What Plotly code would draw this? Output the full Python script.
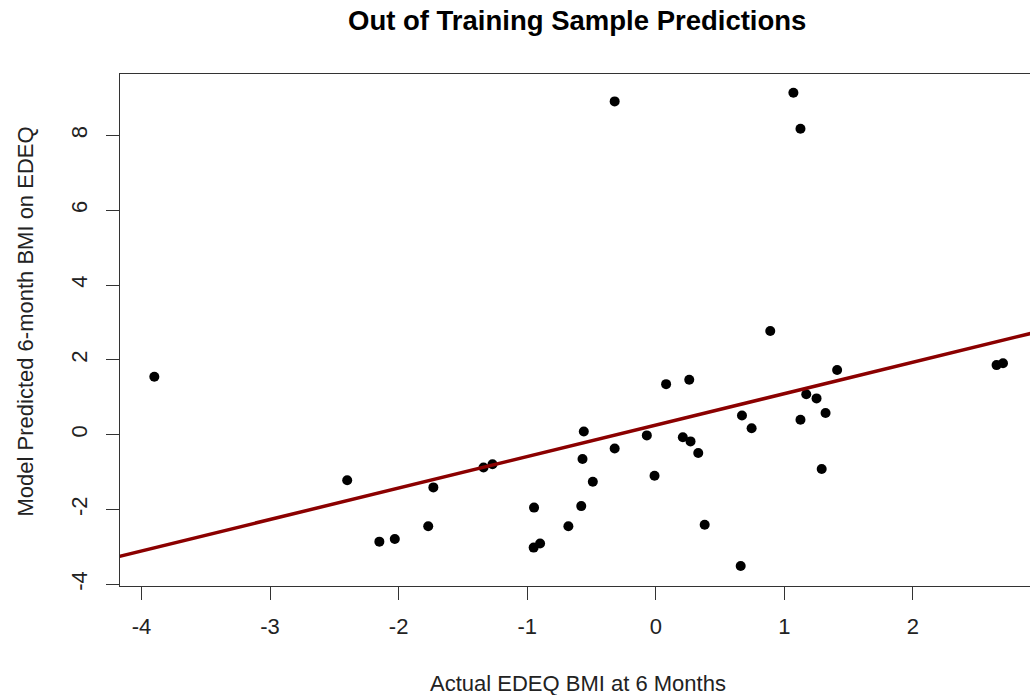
import plotly.graph_objects as go

# Data
actual = [-3.90, -2.40, -2.15, -2.03, -1.77, -1.73, -1.34, -1.27, -0.947, -0.95,
          -0.90, -0.68, -0.58, -0.57, -0.56, -0.49, -0.32, -0.32, -0.07, -0.01,
          0.08, 0.26, 0.21, 0.27, 0.33, 0.38, 0.66, 0.67, 0.745, 0.89,
          1.07, 1.125, 1.125, 1.17, 1.25, 1.29, 1.32, 1.41, 2.65, 2.70]
predicted = [1.55, -1.22, -2.86, -2.79, -2.45, -1.41, -0.88, -0.79, -1.95, -3.02,
             -2.91, -2.45, -1.91, -0.65, 0.085, -1.26, -0.37, 8.91, -0.02, -1.10,
             1.35, 1.47, -0.07, -0.18, -0.49, -2.41, -3.51, 0.51, 0.17, 2.77,
             9.14, 8.18, 0.40, 1.08, 0.97, -0.92, 0.58, 1.73, 1.86, 1.91]

fit_intercept = 0.255
fit_slope = 0.841

x_ticks = [-4, -3, -2, -1, 0, 1, 2]
y_ticks = [-4, -2, 0, 2, 4, 6, 8]

x_range = [-4.167, 2.91]
y_range = [-4.046, 9.642]

line_x = [x_range[0] - 1, x_range[1] + 1]
line_y = [fit_intercept + fit_slope * v for v in line_x]

FONT = "Liberation Sans, Arial, sans-serif"

fig = go.Figure()
fig.add_trace(go.Scatter(x=actual, y=predicted, mode="markers",
                         marker=dict(color="black", size=10),
                         showlegend=False))
fig.add_trace(go.Scatter(x=line_x, y=line_y, mode="lines",
                         line=dict(color="#8B0000", width=3.5),
                         showlegend=False))

axis_common = dict(showgrid=False, zeroline=False, showline=True,
                   linecolor="#333333", linewidth=1.3,
                   ticks="outside", ticklen=13, tickwidth=1.3, tickcolor="#333333",
                   tickfont=dict(family=FONT, size=22, color="#222222"))

fig.update_xaxes(range=x_range, tickvals=x_ticks, ticktext=[str(v) for v in x_ticks],
                 mirror=True, ticklabelstandoff=7, **axis_common)
fig.update_yaxes(range=y_range, tickvals=y_ticks, ticktext=[str(v) for v in y_ticks],
                 tickangle=-90, mirror=False, ticklabelstandoff=10, **axis_common)

# plot area in page pixels: x 120..1030, y 74..586
fig.update_layout(
    width=1030, height=695,
    margin=dict(l=120, r=0, t=74, b=109),
    paper_bgcolor="white", plot_bgcolor="white",
    font=dict(family=FONT, color="#222222"),
    annotations=[
        dict(text="<b>Out of Training Sample Predictions</b>", xref="paper", yref="paper",
             x=(576.5 - 120) / 910, y=1.0 + (74 - 20) / 512, xanchor="center", yanchor="middle",
             showarrow=False, font=dict(family=FONT, size=27.5, color="black")),
        dict(text="Actual EDEQ BMI at 6 Months", xref="paper", yref="paper",
             x=(578 - 120) / 910, y=-(683 - 586) / 512, xanchor="center", yanchor="middle",
             showarrow=False, font=dict(family=FONT, size=22, color="#222222")),
        dict(text="Model Predicted 6-month BMI on EDEQ", xref="paper", yref="paper",
             x=-(120 - 25) / 910, y=(586 - 321.5) / 512, xanchor="center", yanchor="middle",
             textangle=-90, showarrow=False,
             font=dict(family=FONT, size=22, color="#222222")),
    ],
)

fig.write_html("out.html", config={"displayModeBar": False},
               post_script="document.body.style.margin='0';document.body.style.overflow='hidden';")
